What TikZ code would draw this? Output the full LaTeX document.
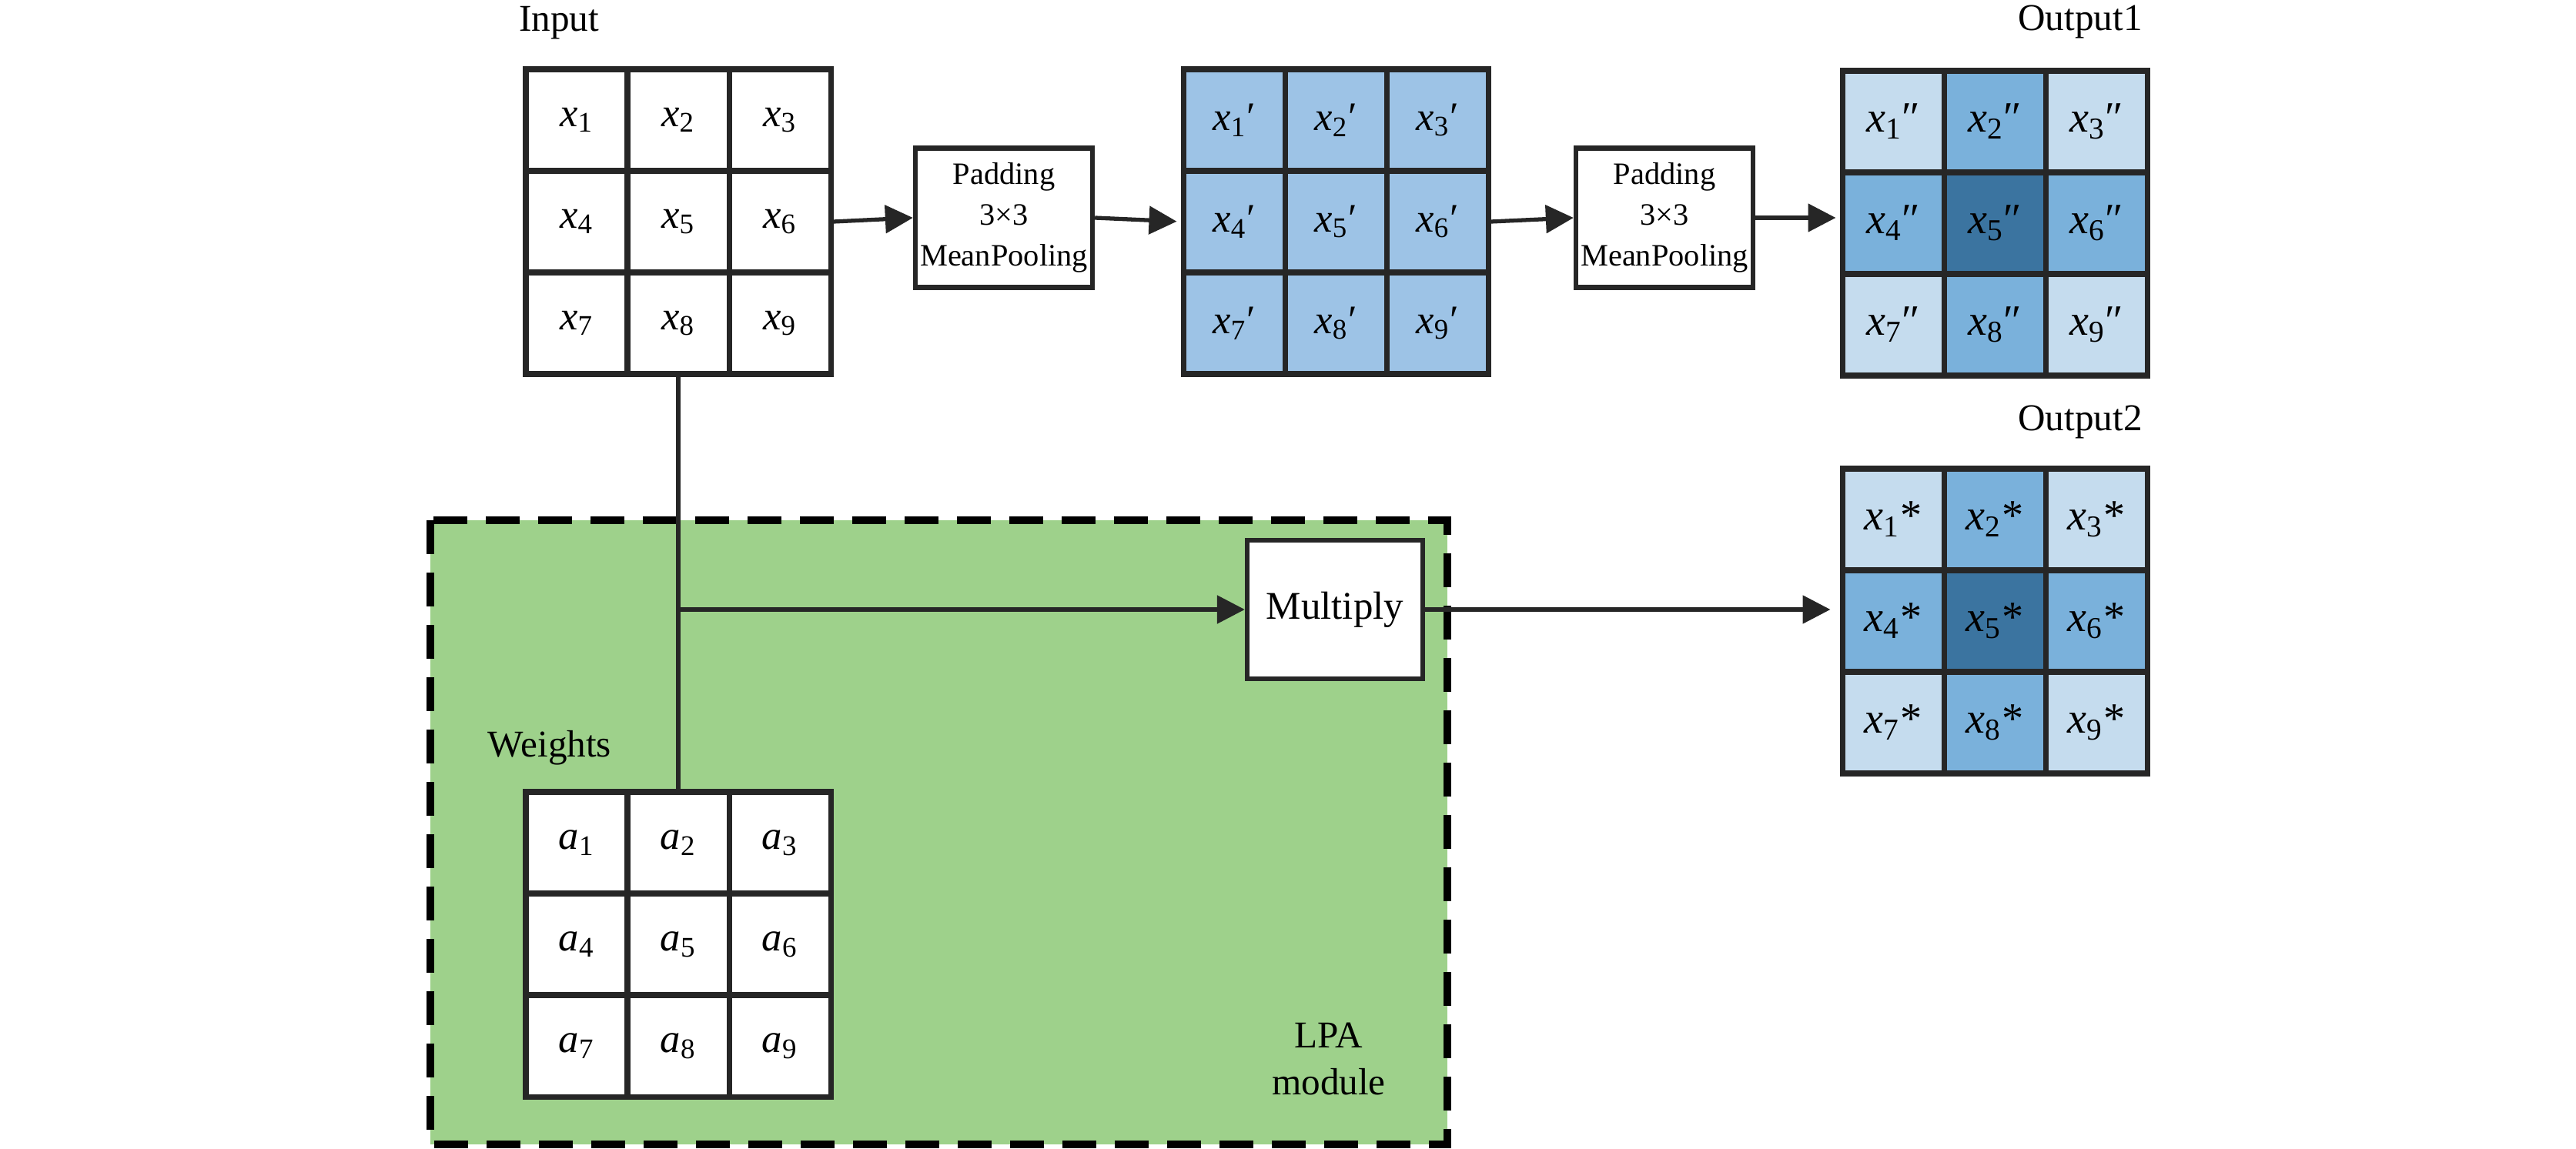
\documentclass[tikz,border=0pt]{standalone}
\usepackage{fontspec}
\setmainfont{Liberation Serif}
\usepackage{tikz}
\usetikzlibrary{arrows.meta,positioning,calc}
\definecolor{lpaGreen}{RGB}{158,209,139}
\definecolor{midBlue}{RGB}{157,195,230}
\definecolor{outTone0}{RGB}{197,220,238}
\definecolor{outTone1}{RGB}{122,177,219}
\definecolor{outTone2}{RGB}{59,116,160}
\definecolor{lineGray}{RGB}{38,38,38}

\newcommand{\xs}[2]{\textit{x}\textsubscript{#1}#2}
\newcommand{\as}[1]{\textit{a}\textsubscript{#1}}

\begin{document}
\begin{tikzpicture}[
    cell/.style={draw=lineGray, line width=2pt, minimum width=1.32cm, minimum height=1.32cm,
                 inner sep=0pt, font=\fontsize{15}{18}\selectfont},
    opbox/.style={draw=lineGray, fill=white, line width=1.8pt, inner sep=0pt, align=center},
    arr/.style={lineGray, line width=1.5pt, -{Triangle[length=0.36cm, width=0.36cm]}},
    lbl/.style={font=\fontsize{14}{17}\selectfont}
]
\useasboundingbox (0,0) rectangle (33.46,-14.93);

% LPA module area
\fill[lpaGreen] (5.59,-6.76) rectangle (18.80,-14.87);
\draw[black, line width=2.8pt, dash pattern=on 0.44cm off 0.24cm] (5.59,-6.76) rectangle (18.80,-14.87);
\node[font=\fontsize{14}{17.6}\selectfont, align=center] (lpa) at (17.26,-13.76) {LPA\\module};

% grids
\foreach \i in {1,...,9}{
  \pgfmathtruncatemacro\col{mod(\i-1,3)}
  \pgfmathtruncatemacro\row{(\i-1)/3}
  \pgfmathtruncatemacro\tone{\i==5 ? 2 : (mod(\i,2)==0 ? 1 : 0)}
  \node[cell, fill=white] (in\i) at (6.83+1.32*\col+0.66, -0.90-1.32*\row-0.66) {\xs{\i}{}};
  \node[cell, fill=midBlue] (mp\i) at (15.37+1.32*\col+0.66, -0.90-1.32*\row-0.66) {\xs{\i}{′}};
  \node[cell, fill=outTone\tone, font=\fontsize{16}{19}\selectfont] (oa\i) at (23.93+1.32*\col+0.66, -0.92-1.32*\row-0.66) {\xs{\i}{″}};
  \node[cell, fill=outTone\tone, font=\fontsize{16}{19}\selectfont] (ob\i) at (23.93+1.32*\col+0.66, -6.09-1.32*\row-0.66) {\xs{\i}{*}};
  \node[cell, fill=white] (w\i) at (6.83+1.32*\col+0.66, -10.29-1.32*\row-0.66) {\as{\i}};
}

% labels
\node[lbl] (inlbl) at (7.26,-0.30) {Input};
\node[lbl] (o1lbl) at (27.02,-0.28) {Output1};
\node[lbl] (o2lbl) at (27.02,-5.48) {Output2};
\node[lbl] (wlbl) at (7.14,-9.72) {Weights};

% operations
\node[opbox, minimum width=2.30cm, minimum height=1.81cm, font=\fontsize{11.5}{15}\selectfont] (pad1) at (13.04,-2.83) {Padding\\3×3\\MeanPooling};
\node[opbox, minimum width=2.30cm, minimum height=1.81cm, font=\fontsize{11.5}{15}\selectfont] (pad2) at (21.62,-2.83) {Padding\\3×3\\MeanPooling};
\node[opbox, minimum width=2.28cm, minimum height=1.80cm, font=\fontsize{14.5}{17}\selectfont] (mult) at (17.34,-7.92) {Multiply};

% connectors
\draw[arr] (in6.east) -- (pad1.west);
\draw[arr, shorten >=0.05cm] (pad1.east) -- (mp4.west);
\draw[arr] (mp6.east) -- (pad2.west);
\draw[arr, shorten >=0.05cm] (pad2.east) -- (pad2.east -| oa4.west);
\draw[lineGray, line width=1.5pt] (in8.south) -- (w2.north);
\draw[arr] (in8.south |- mult.west) -- (mult.west);
\draw[arr, shorten >=0.12cm] (mult.east) -- (mult.east -| ob4.west);
\end{tikzpicture}
\end{document}
